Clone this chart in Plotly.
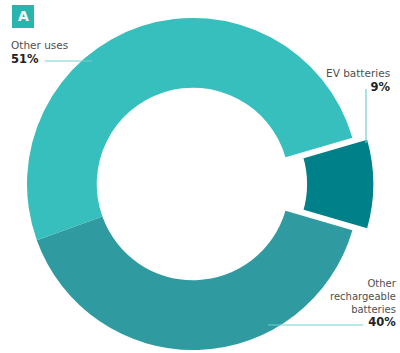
import plotly.graph_objects as go

# Shares of end use (percent)
labels = ["EV batteries", "Other rechargeable batteries", "Other uses"]
label_lines = ["EV batteries", "Other<br>rechargeable<br>batteries", "Other uses"]
values = [9, 40, 51]
colors = ["#00818A", "#2F9BA1", "#36BFBC"]
panel_tag = "A"

W, H = 400, 353
CLEAR = "rgba(0,0,0,0)"


def px(x):
    return x / W


def py(y):
    return 1 - y / H


# ring geometry in pixels
cx, cy, R = 193, 184, 166
explode = 16  # horizontal offset of the highlighted slice

fig = go.Figure()

# base ring: the highlighted slice is left empty
fig.add_trace(go.Pie(
    labels=labels, values=values, sort=False, direction="clockwise",
    rotation=90 - values[0] * 3.6 / 2, hole=0.58,
    marker=dict(colors=[CLEAR, colors[1], colors[2]], line=dict(width=0)),
    textinfo="none", hoverinfo="skip", showlegend=False,
    domain=dict(x=[px(cx - R), px(cx + R)], y=[py(cy + R), py(cy - R)]),
))

# highlighted slice, pulled out to the right
fig.add_trace(go.Pie(
    labels=labels, values=values, sort=False, direction="clockwise",
    rotation=90 - values[0] * 3.6 / 2, hole=0.58,
    marker=dict(colors=[colors[0], CLEAR, CLEAR],
                line=dict(color="white", width=[3.5, 0, 0])),
    textinfo="none", hoverinfo="skip", showlegend=False,
    domain=dict(x=[px(cx - R + explode), px(cx + R + explode)],
                y=[py(cy + R), py(cy - R)]),
))

lead = "#74CFCC"
shapes = [
    dict(type="rect", xref="paper", yref="paper",
         x0=px(12), x1=px(34), y0=py(28), y1=py(5),
         fillcolor="#27B6AF", line=dict(width=0)),
    dict(type="line", xref="paper", yref="paper",
         x0=px(45), x1=px(92), y0=py(61), y1=py(61),
         line=dict(color=lead, width=1.2)),
    dict(type="line", xref="paper", yref="paper",
         x0=px(366), x1=px(366), y0=py(89), y1=py(143),
         line=dict(color=lead, width=1.2)),
    dict(type="line", xref="paper", yref="paper",
         x0=px(268), x1=px(363), y0=py(325), y1=py(325),
         line=dict(color=lead, width=1.2)),
]


def tag(i):
    return (f"<span style='color:#505050'>{label_lines[i]}</span><br>"
            f"<b style='font-size:11.5px;color:#222222'>{values[i]}%</b>")


font = dict(family="DejaVu Sans", size=10.5, color="#505050")
annotations = [
    dict(text=f"<b>{panel_tag}</b>", x=px(23), y=py(16.5), xref="paper", yref="paper",
         showarrow=False, xanchor="center", yanchor="middle",
         font=dict(family="DejaVu Sans", size=14, color="white")),
    dict(text=tag(2), x=px(9), y=py(37), xref="paper", yref="paper",
         showarrow=False, xanchor="left", yanchor="top", align="left", font=font),
    dict(text=tag(0), x=px(393), y=py(65), xref="paper", yref="paper",
         showarrow=False, xanchor="right", yanchor="top", align="right", font=font),
    dict(text=tag(1), x=px(399), y=py(331), xref="paper", yref="paper",
         showarrow=False, xanchor="right", yanchor="bottom", align="right",
         font=dict(family="DejaVu Sans", size=10, color="#505050")),
]

fig.update_layout(
    width=W, height=H, margin=dict(l=0, r=0, t=0, b=0),
    paper_bgcolor="white", plot_bgcolor="white",
    shapes=shapes, annotations=annotations,
)

fig.write_html("out.html", config={"displayModeBar": False})
